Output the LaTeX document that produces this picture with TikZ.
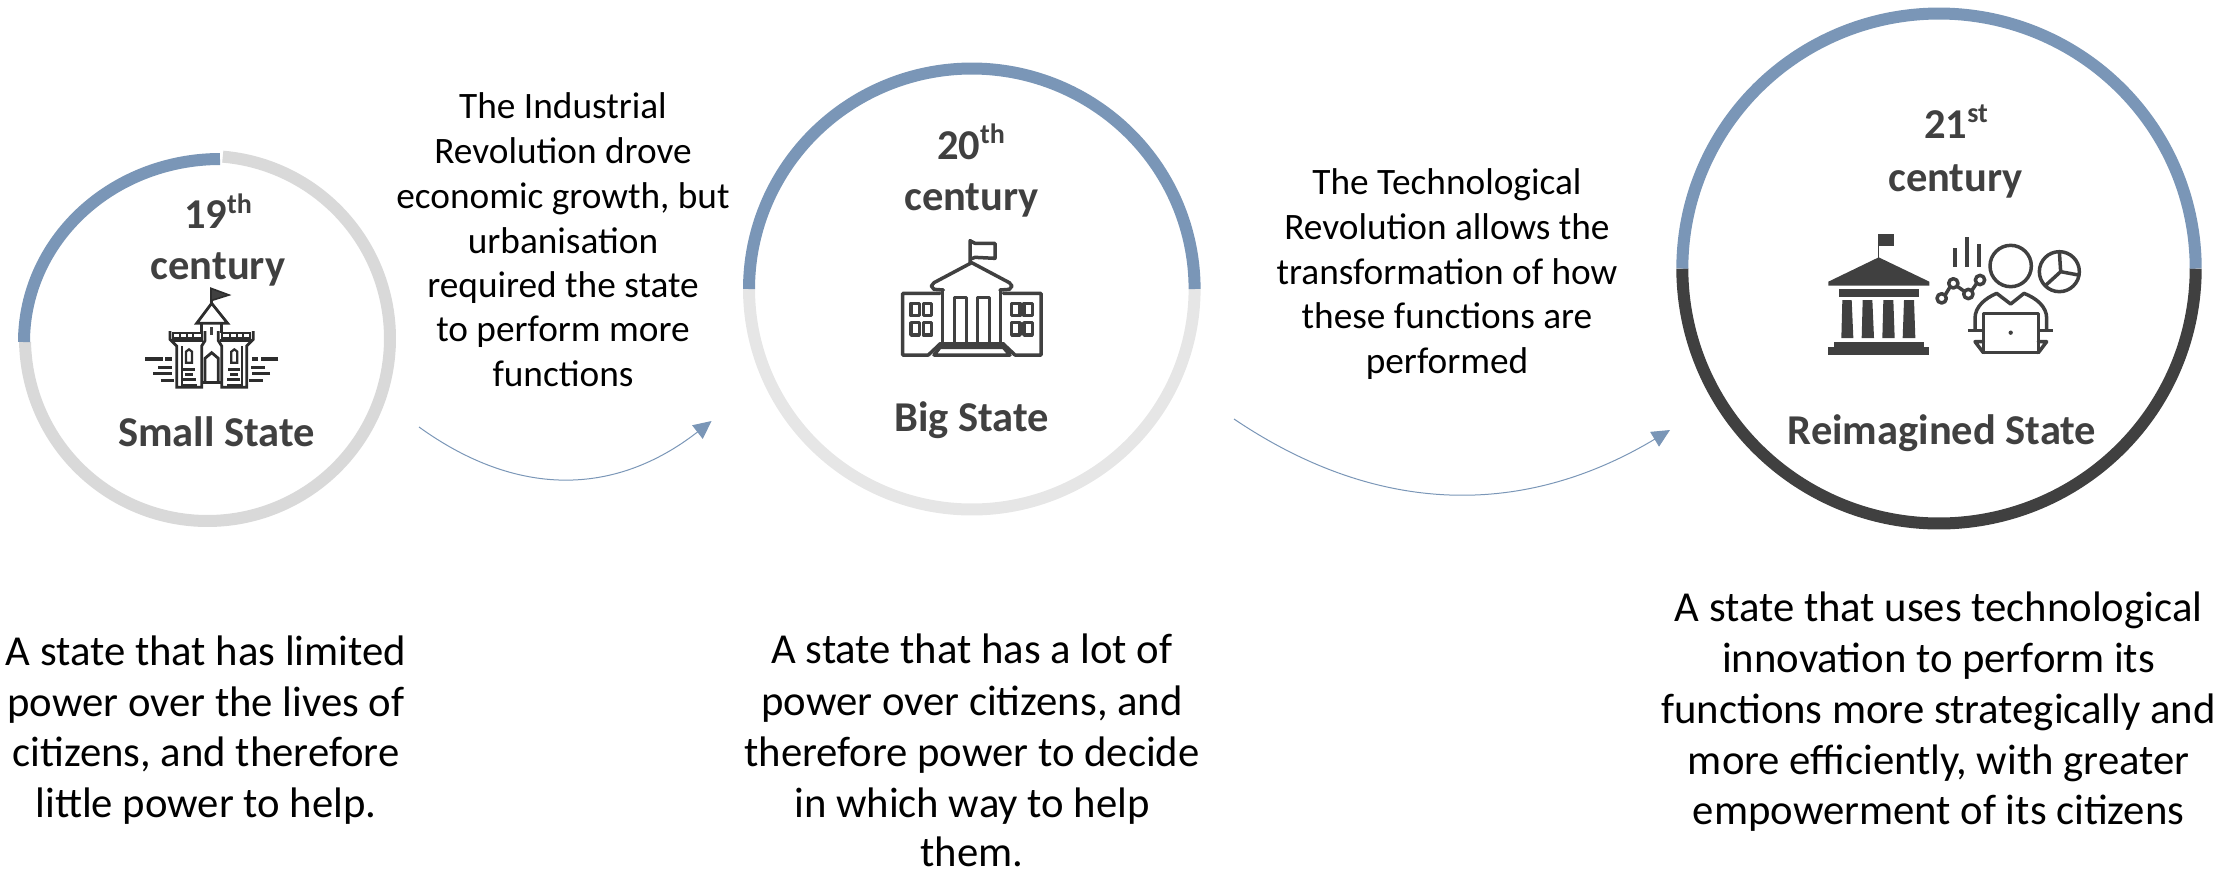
\documentclass[tikz,border=0pt]{standalone}
\usepackage{fontspec}
\setmainfont{Carlito}
\usetikzlibrary{arrows.meta}
\definecolor{ringblue}{HTML}{7A96B7}
\definecolor{inkdark}{HTML}{404040}
\definecolor{ringgrayA}{HTML}{D9D9D9}
\definecolor{ringgrayB}{HTML}{E6E6E6}
\newcommand{\supr}[1]{\raisebox{.36em}{\fontsize{28}{28}\selectfont #1}}
\newcommand{\ringarc}[7]{\draw[#1,line width=12pt,line cap=butt] plot[domain=#6:#7,samples=160] ({#2+#4*cos(\x)},{#3+#5*sin(\x)});}
\tikzset{
  x=1pt,y=-1pt,
  title/.style={inner sep=0pt,anchor=base,text=inkdark,font=\fontsize{42.5}{50}\selectfont\bfseries,align=center},
  body/.style={inner sep=0pt,anchor=base,text=black,align=center},
  bodybig/.style={body,font=\fontsize{42.7}{51}\selectfont},
  bodymid/.style={body,font=\fontsize{37.3}{44.5}\selectfont},
  flow/.style={draw=ringblue,line width=1pt,-{Triangle[length=18pt,width=17pt,fill=ringblue]}},
  icon/.style={x=0.33333pt,y=-0.33333pt},
  thick line/.style={draw=inkdark,line width=3.5pt,line join=round,line cap=round},
  castle/.style={draw=inkdark!70!black,line width=2.8pt,line join=miter},
}
\begin{document}
\begin{tikzpicture}
\useasboundingbox (0,0) rectangle (2229,871);
% rings
\ringarc{ringgrayA}{207.5}{338.5}{182.5}{182.5}{-85.2}{178.9}
\ringarc{ringblue}{220}{342}{196}{183}{180}{270}
\ringarc{ringgrayB}{971.8}{289}{222.8}{220.5}{0}{180}
\ringarc{ringblue}{971.8}{289}{222.8}{220.5}{180}{360}
\ringarc{inkdark}{1939}{268.5}{256.7}{255}{0}{180}
\ringarc{ringblue}{1939}{268.5}{256.7}{255}{180}{360}
% titles
\node[title] (t1a) at (218,228.5) {19\supr{th}};
\node[title] (t1b) at (218,279) {century};
\node[title] (t1c) at (216.5,446.5) {Small State};
\node[title] (t2a) at (971,159) {20\supr{th}};
\node[title] (t2b) at (971.5,210) {century};
\node[title] (t2c) at (971.5,431) {Big State};
\node[title] (t3a) at (1956,138) {21\supr{st}};
\node[title] (t3b) at (1955.5,191.5) {century};
\node[title] (t3c) at (1942,444.5) {Reimagined State};
% body texts
\node[bodymid] (m1a) at (563,118.5) {The Industrial};
\node[bodymid] (m1b) at (563,163) {Revolution drove};
\node[bodymid] (m1c) at (563,208) {economic growth, but};
\node[bodymid] (m1d) at (563,253) {urbanisation};
\node[bodymid] (m1e) at (563,297) {required the state};
\node[bodymid] (m1f) at (563,341) {to perform more};
\node[bodymid] (m1g) at (563,386) {functions};
\node[bodymid] (m2a) at (1447,194.5) {The Technological};
\node[bodymid] (m2b) at (1447,239.5) {Revolution allows the};
\node[bodymid] (m2c) at (1447,284.5) {transformation of how};
\node[bodymid] (m2d) at (1447,328.5) {these functions are};
\node[bodymid] (m2e) at (1447,373.5) {performed};
\node[bodybig] (b1a) at (206,665) {A state that has limited};
\node[bodybig] (b1b) at (206,716) {power over the lives of};
\node[bodybig] (b1c) at (206,766) {citizens, and therefore};
\node[bodybig] (b1d) at (206,817) {little power to help.};
\node[bodybig] (b2a) at (972,663) {A state that has a lot of};
\node[bodybig] (b2b) at (972,715) {power over citizens, and};
\node[bodybig] (b2c) at (972,766) {therefore power to decide};
\node[bodybig] (b2d) at (972,817) {in which way to help};
\node[bodybig] (b2e) at (972,866) {them.};
\node[bodybig] (b3a) at (1938.6,621.5) {A state that uses technological};
\node[bodybig] (b3b) at (1938.6,672.5) {innovation to perform its};
\node[bodybig] (b3c) at (1938.6,723.5) {functions more strategically and};
\node[bodybig] (b3d) at (1938.6,774.5) {more efficiently, with greater};
\node[bodybig] (b3e) at (1938.6,824.5) {empowerment of its citizens};
% connectors
\coordinate (a1s) at (419,427);
\coordinate (a1e) at (711.6,421);
\coordinate (a2s) at (1234,419);
\coordinate (a2e) at (1670,430);
\draw[flow] (a1s) .. controls (516,497) and (614,497) .. (a1e);
\draw[flow] (a2s) .. controls (1379,517) and (1525,517) .. (a2e);
% castle icon
\begin{scope}[shift={(130,270)},icon]
\draw[castle,line width=1.6pt,fill=inkdark] (243,55) -- (297,75) -- (243,92) -- cycle;
\draw[castle] (244,92) -- (245,100);
\draw[castle] (245,100) -- (293,160) -- (200,160) -- cycle;
\draw[castle] (215,160) -- (215,190) (275,160) -- (275,190);
\fill[inkdark] (240,172) rectangle (250,195);
% towers
\foreach \dx/\sg in {0/1,490/-1}{
\begin{scope}[shift={(\dx,0)},x=\sg*0.33333pt]
\draw[castle] (120,183) -- (120,208) -- (140,228) -- (140,352) -- (215,352) -- (215,228) -- (225,212) -- (225,183);
\draw[castle] (125,212) -- (220,212);
\draw[castle,line width=2.2pt] (130,205) -- (130,188) -- (215,188) -- (215,205) -- cycle;
\draw[castle,line width=2.2pt] (150,188) -- (150,205) (170,188) -- (170,205) (190,188) -- (190,205);
\draw[castle,line width=1.8pt] (155,228) -- (155,345) -- (200,345);
\draw[castle,line width=2.2pt] (168,278) -- (168,245) -- (177,238) -- (186,245) -- (186,278) -- cycle;
\draw[castle,line width=3pt] (160,298) -- (195,298) (165,313) -- (190,313) (160,328) -- (198,328);
\draw[castle,line width=3.3pt] (45,267) -- (98,267) (106,267) -- (125,267) (85,292) -- (127,292) (70,310) -- (125,310) (92,332) -- (133,332);
\end{scope}}
\draw[castle] (225,335) -- (225,265) -- (245,248) -- (265,265) -- (265,335);
\draw[castle] (215,337) -- (275,337);
\end{scope}
% big state icon
\begin{scope}[shift={(860,220)},icon]
\draw[thick line,fill=none] (240,220) -- (128,220) -- (128,405) -- (205,405) -- (240,372);
\draw[thick line] (430,220) -- (543,220) -- (543,405) -- (465,405) -- (430,372);
\draw[thick line] (248,210) -- (248,372) (422,210) -- (422,372);
\draw[thick line] (250,210) -- (222,208) -- (214,198) -- (222,188) -- (335,128) -- (448,188) -- (456,198) -- (448,208) -- (420,210);
\draw[thick line] (330,128) -- (330,62) -- (345,70) -- (405,70) -- (405,115) -- (345,112) -- (330,118);
\draw[thick line] (284,372) -- (284,233) -- (320,233) -- (320,372);
\draw[thick line] (352,372) -- (352,233) -- (388,233) -- (388,372);
\draw[thick line] (240,372) -- (430,372);
\draw[thick line] (222,405) -- (240,382) -- (430,382) -- (450,405) -- cycle;
\foreach \wx in {153,190,455,492}{\foreach \wy in {250,308}{
  \draw[thick line] (\wx,\wy) rectangle ++(25,37);}}
\end{scope}
% reimagined icon
\begin{scope}[shift={(1800,220)},icon]
\fill[inkdark] (234,42) rectangle (282,78);
\draw[inkdark,line width=1pt] (236,42) -- (236,115);
\fill[inkdark] (236,112) -- (388,185) -- (388,197) -- (85,197) -- (85,185) -- cycle;
\fill[inkdark] (116,207) rectangle (357,230);
\fill[inkdark] (127,240) -- (155,240) -- (160,354) -- (124,354) -- cycle;
\fill[inkdark] (188,240) -- (217,240) -- (222,354) -- (185,354) -- cycle;
\fill[inkdark] (250,240) -- (280,240) -- (284,354) -- (247,354) -- cycle;
\fill[inkdark] (312,240) -- (342,240) -- (346,354) -- (308,354) -- cycle;
\fill[inkdark] (102,365) rectangle (372,384);
\fill[inkdark] (85,382) rectangle (388,405);
\draw[inkdark,line width=4pt] (465,85) -- (465,140) (500,52) -- (500,140) (537,72) -- (537,140);
\draw[thick line,line cap=butt] (436,224) -- (450,201) (470,198) -- (493,214) (515,212) -- (530,190);
\foreach \cx/\cy in {425/235,460/190,505/222,540/180}{\draw[thick line] (\cx,\cy) circle[radius=14];}
\draw[thick line] (632,138) circle[radius=62];
\draw[thick line] (778,155) circle[radius=60];
\draw[thick line] (738,195) -- (782,155) -- (778,95) (782,155) -- (835,165);
\draw[thick line] (525,330) -- (525,295) .. controls (525,260) and (555,235) .. (590,220) -- (632,252) -- (672,220) .. controls (710,235) and (740,260) .. (740,295) -- (740,330);
\draw[thick line,line cap=butt] (505,332) -- (552,332) (712,332) -- (758,332);
\draw[thick line] (550,398) -- (550,280) -- (715,280) -- (715,398) -- cycle;
\draw[thick line] (550,365) -- (525,365) -- (550,398) (715,365) -- (740,365) -- (715,398);
\fill[inkdark] (632,338) circle[radius=6.5];
\end{scope}
\end{tikzpicture}
\end{document}
